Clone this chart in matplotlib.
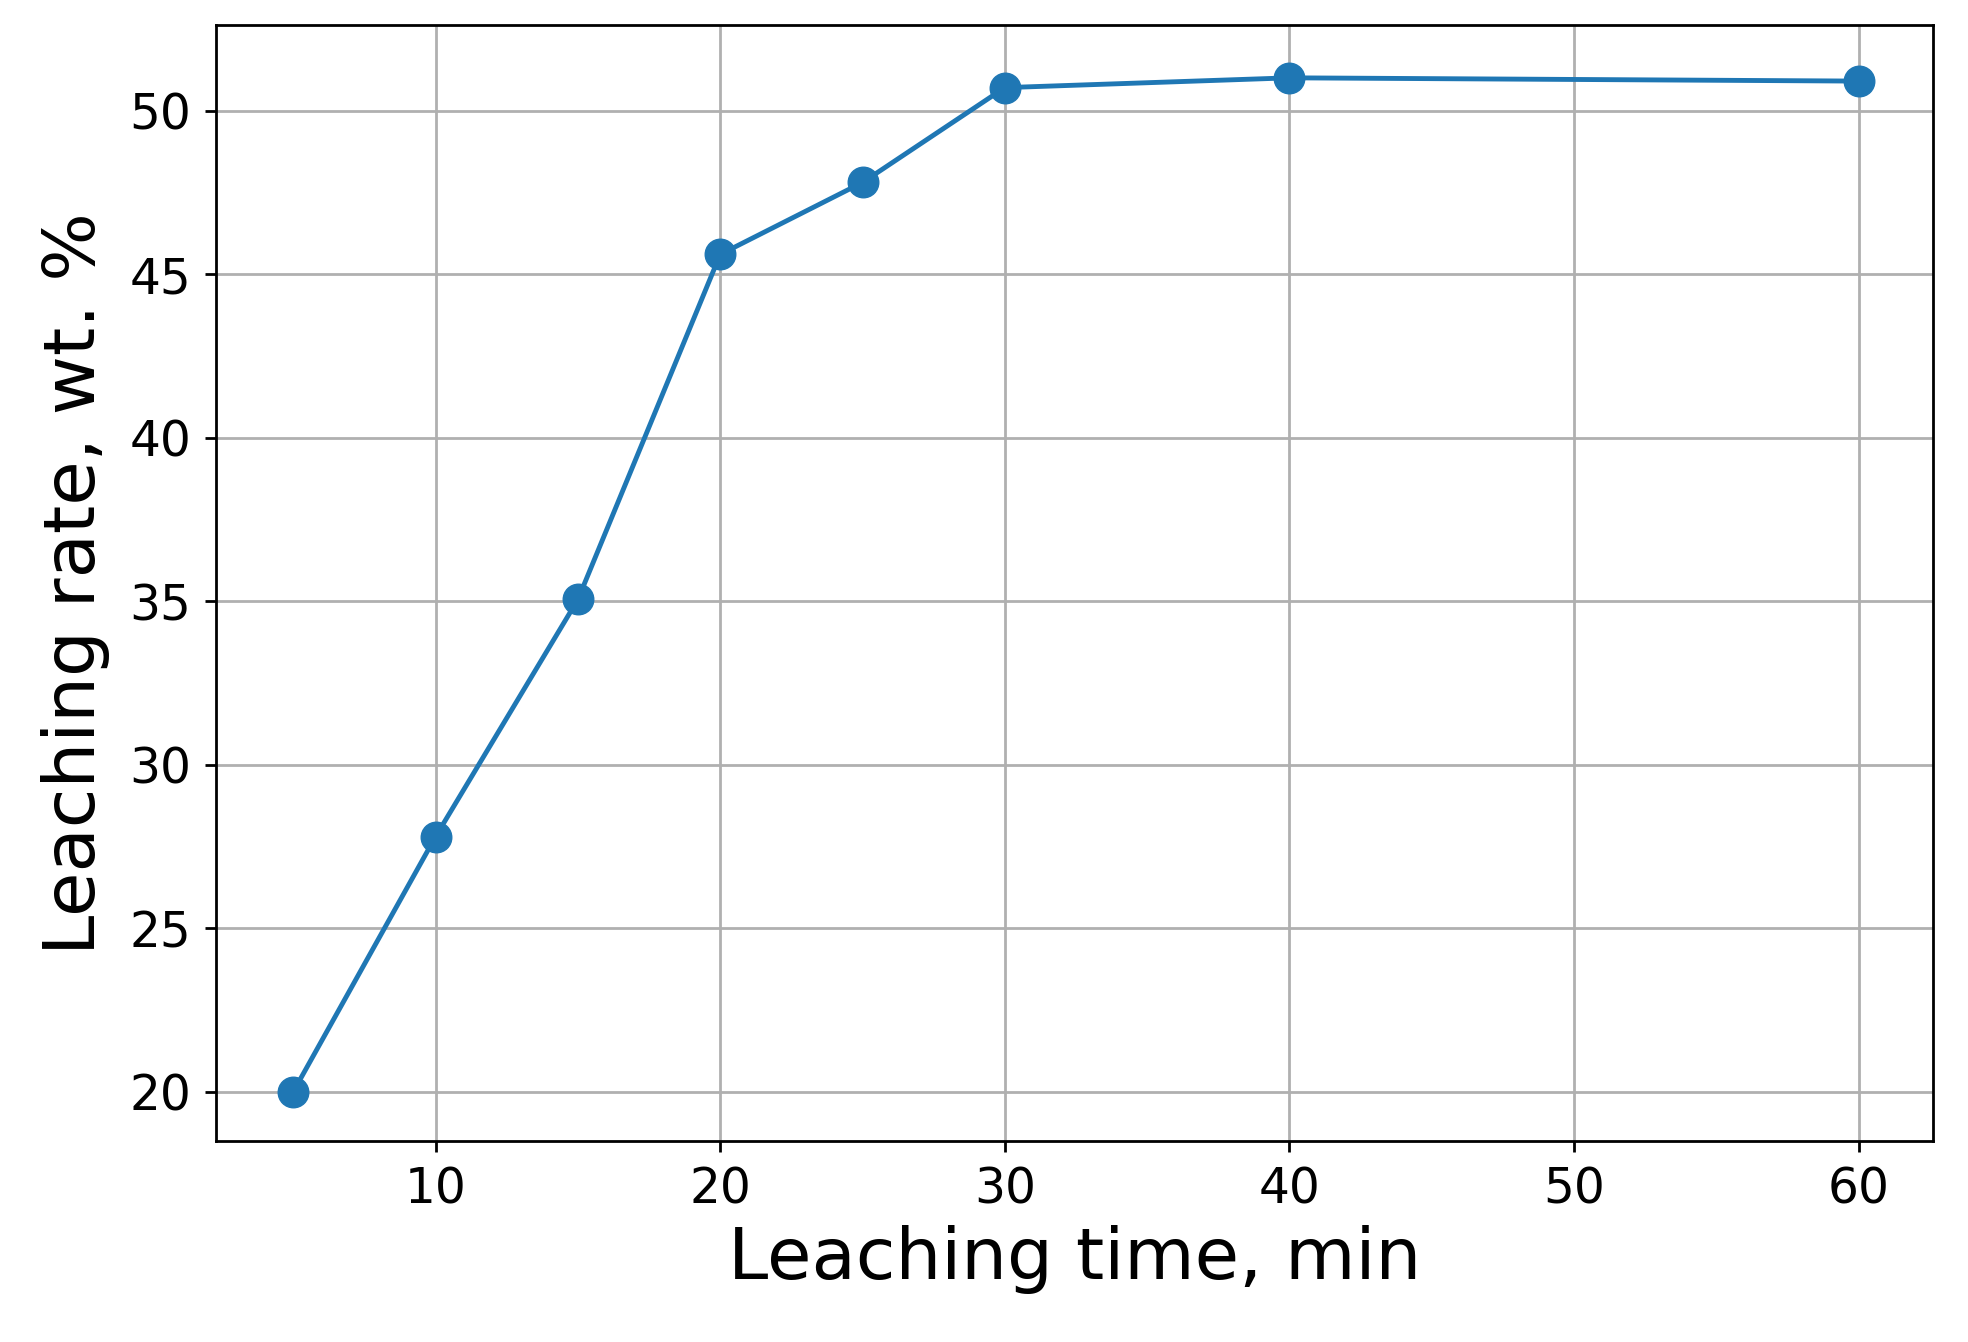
import matplotlib
matplotlib.use("Agg")
import matplotlib.pyplot as plt

time_min = [5, 10, 15, 20, 25, 30, 40, 60]
leach_rate = [20.0, 27.8, 35.05, 45.6, 47.8, 50.7, 51.0, 50.9]

fig = plt.figure(figsize=(19.68, 13.42), dpi=100)
ax = fig.add_axes([0.110, 0.150, 0.872, 0.831])
ax.plot(time_min, leach_rate, '-o', color='#1f77b4', lw=3.5, ms=22)
ax.set_xlim(2.3, 62.6)
ax.set_ylim(18.5, 52.6)
ax.set_xticks([10, 20, 30, 40, 50, 60])
ax.set_yticks([20, 25, 30, 35, 40, 45, 50])
ax.grid(True, color='#b0b0b0', lw=2)
ax.tick_params(labelsize=35, width=2, length=8, pad=10)
for s in ax.spines.values():
    s.set_linewidth(2)
ax.set_xlabel("Leaching time, min", fontsize=52, labelpad=8)
ax.set_ylabel("Leaching rate, wt. %", fontsize=52, labelpad=14)
fig.savefig("out.png", dpi=100)
